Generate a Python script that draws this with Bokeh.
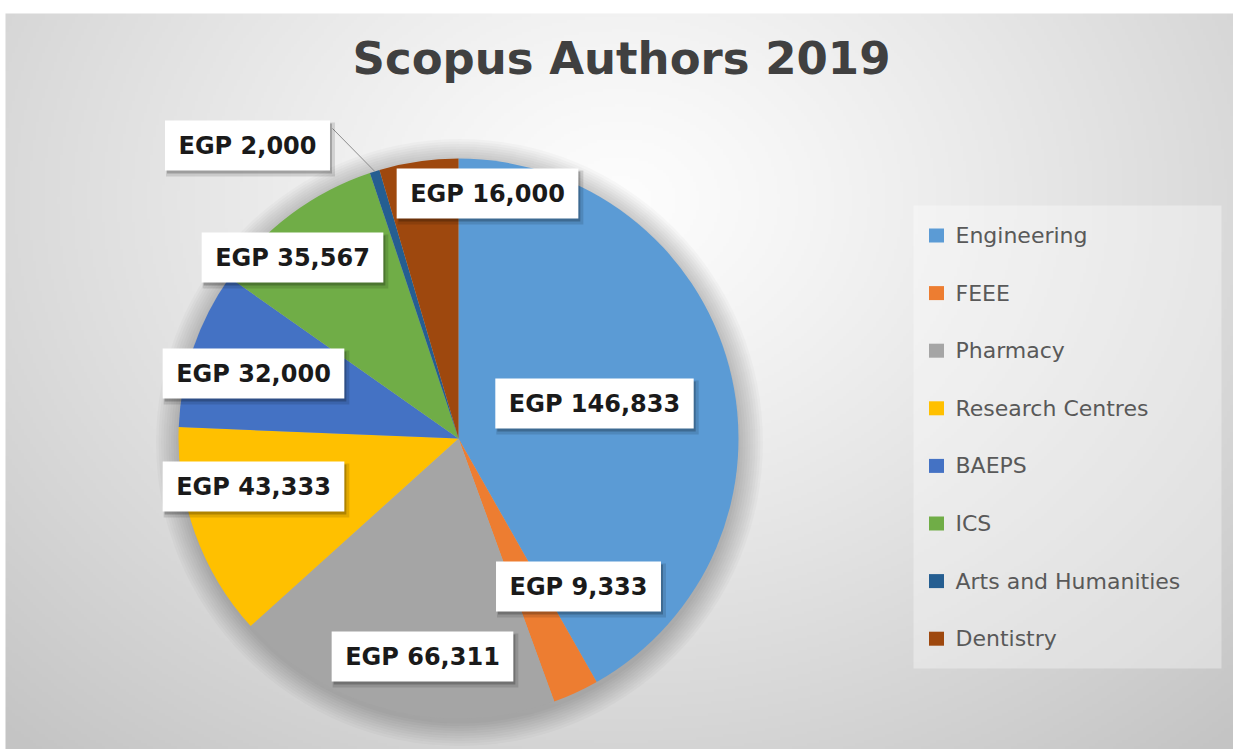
import numpy as np
from bokeh.plotting import figure
from bokeh.models import Range1d, ColumnDataSource
from bokeh.core.properties import value
from bokeh.embed import file_html
from bokeh.resources import INLINE

# ---------------- data ----------------
categories = ["Engineering", "FEEE", "Pharmacy", "Research Centres",
              "BAEPS", "ICS", "Arts and Humanities", "Dentistry"]
amounts = [146833, 9333, 66311, 43333, 32000, 35567, 2000, 16000]
currency = "EGP"
title_text = "Scopus Authors 2019"

# ---------------- styling / layout ----------------
colors = ["#5B9BD5", "#ED7D31", "#A5A5A5", "#FFC000",
          "#4472C4", "#70AD47", "#255E91", "#9E480E"]
# label box centres (page px)
label_pos = [(594, 403), (578, 586), (422, 656), (253, 486),
             (253, 373), (292, 257), (247, 145), (487, 193)]
leader_from = {6: (332, 128)}

W, H = 1233, 749
CX, CY, R = 458, 438, 280

p = figure(width=W, height=H, x_range=Range1d(0, W), y_range=Range1d(-H, 0),
           output_backend="svg", toolbar_location=None, min_border=0,
           x_axis_location=None, y_axis_location=None)
p.grid.visible = False
p.outline_line_color = None
p.background_fill_color = "white"
p.border_fill_color = "white"

# ---------------- background radial gradient ----------------
bx0, by0, bw, bh = 5, 13, 1228, 736
nx, ny = 409, 246
px = bx0 + (np.arange(nx) + 0.5) * bw / nx
py = by0 + bh - (np.arange(ny) + 0.5) * bh / ny  # row 0 at bottom
PX, PY = np.meshgrid(px, py)
d = np.sqrt(((PX - 620) / 700.0) ** 2 + ((PY - 200) / 560.0) ** 2)
c = 253 - 57 * np.clip(d / 1.3, 0, 1) ** 1.2
img = np.zeros((ny, nx), dtype=np.uint32)
view = img.view(dtype=np.uint8).reshape((ny, nx, 4))
cc = c.astype(np.uint8)
view[:, :, 0] = cc
view[:, :, 1] = cc
view[:, :, 2] = cc
view[:, :, 3] = 255
p.image_rgba(image=[img], x=bx0, y=-(by0 + bh), dw=bw, dh=bh)

# ---------------- pie shadow ----------------
for k in range(10):
    p.circle(x=CX + 1, y=-(CY + 4), radius=R + 1 + k * 2.5,
             fill_color="black", fill_alpha=0.022, line_color=None)

# ---------------- pie ----------------
vals = np.array(amounts, dtype=float)
frac = vals / vals.sum()
cum = np.concatenate([[0], np.cumsum(frac)])
start = np.pi / 2 - 2 * np.pi * cum[:-1]
end = np.pi / 2 - 2 * np.pi * cum[1:]
src = ColumnDataSource(dict(start=start, end=end, color=colors, cat=categories))
p.wedge(x=CX, y=-CY, radius=R, start_angle="start", end_angle="end",
        direction="clock", fill_color="color", line_color=None, source=src)

# ---------------- leader line ----------------
for i, (lx0, ly0) in leader_from.items():
    mid = (start[i] + end[i]) / 2
    ex = CX + R * np.cos(mid)
    ey = -CY + R * np.sin(mid)
    p.line(x=[lx0, ex], y=[-ly0, ey], line_color="#8c8c8c", line_width=1)

# ---------------- data labels ----------------
fs = 24
labels = [f"{currency} {v:,}" for v in amounts]
def text_w(s):
    em = {"E": .683, "G": .821, "P": .733, " ": .348, ",": .38}
    return sum(em.get(ch, .696) for ch in s) * fs
bw_list = [text_w(s) + 27 for s in labels]
lx = [q[0] for q in label_pos]
ly = [-q[1] for q in label_pos]
p.rect(x=[x + 3 for x in lx], y=[y - 4 for y in ly], width=[w + 4 for w in bw_list], height=54,
       fill_color="black", fill_alpha=0.12, line_color=None)
p.rect(x=[x + 2 for x in lx], y=[y - 3 for y in ly], width=bw_list, height=50,
       fill_color="black", fill_alpha=0.22, line_color=None)
p.rect(x=lx, y=ly, width=bw_list, height=50, fill_color="white", line_color=None)
p.text(x=lx, y=ly, text=labels, text_align="center", text_baseline="middle",
       text_font=value("DejaVu Sans"), text_font_style="bold",
       text_font_size=f"{fs}px", text_color="#1a1a1a")

# ---------------- title ----------------
p.text(x=[621], y=[-58], text=[title_text], text_align="center", text_baseline="alphabetic",
       text_font=value("DejaVu Sans"), text_font_style="bold",
       text_font_size="45px", text_color="#404040")

# ---------------- legend ----------------
p.quad(left=913, right=1221, top=-205, bottom=-668, fill_color="white",
       fill_alpha=0.35, line_color=None)
rows_y = [-(235 + 57.6 * k) for k in range(len(categories))]
p.rect(x=[936] * len(categories), y=rows_y, width=15, height=14,
       fill_color=colors, line_color=None)
p.text(x=[955] * len(categories), y=rows_y, text=categories, text_align="left",
       text_baseline="middle", text_font=value("DejaVu Sans"),
       text_font_size="22px", text_color="#595959")

open("out.html", "w").write(file_html(p, INLINE))
